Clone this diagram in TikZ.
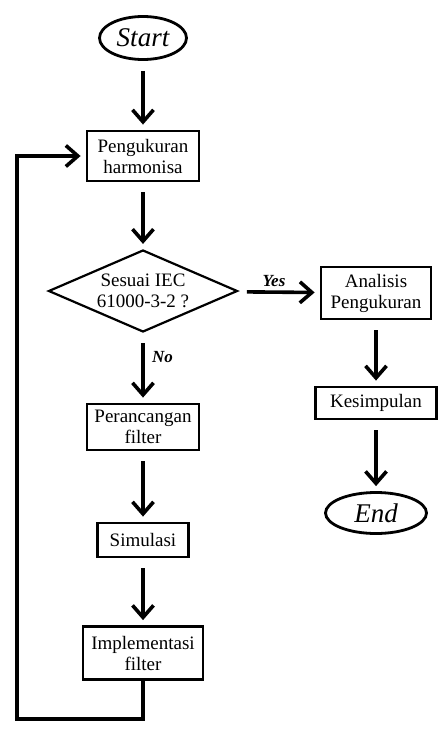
\documentclass[tikz,border=0pt]{standalone}
\usepackage{fontspec}
\setmainfont{Liberation Serif}
\usepackage{tikz}
\usetikzlibrary{shapes.geometric,arrows.meta}

\tikzset{
    proses/.style={draw, line width=2.8pt, align=center, inner sep=1pt,
        font=\fontsize{19}{21}\selectfont},
    terminal/.style={draw, ellipse, line width=2.8pt, inner sep=0pt,
        font=\fontsize{27}{30}\selectfont\itshape},
    keputusan/.style={draw, diamond, line width=2.2pt, inner sep=0pt},
    alur/.style={line width=3.6pt, line join=miter,
        -{Straight Barb[length=12pt,width=21pt,line width=3.6pt]},
        shorten <=10pt, shorten >=5pt},
    jawab/.style={font=\fontsize{17}{19}\selectfont\bfseries\itshape}
}

\begin{document}
\begin{tikzpicture}[x=1pt, y=-1pt]

    \useasboundingbox (0,0) rectangle (445,731);

    \node[terminal, minimum width=87pt, minimum height=43pt] (start) at (143,38) {Start};
    \node[proses, minimum width=112pt, minimum height=50pt] (ukur) at (143,156) {Pengukuran\\harmonisa};
    \node[keputusan, minimum width=189pt, minimum height=82pt] (iec) at (143,291) {};
    \node[align=center, font=\fontsize{19}{21}\selectfont] (iectext) at (iec) {Sesuai IEC\\61000-3-2 ?};
    \node[proses, minimum width=110pt, minimum height=52pt] (analisis) at (376,293) {Analisis\\Pengukuran};
    \node[proses, minimum width=121pt, minimum height=32pt] (simpul) at (376,403) {Kesimpulan};
    \node[terminal, minimum width=101pt, minimum height=41pt] (end) at (376,513) {End};
    \node[proses, minimum width=112pt, minimum height=46pt] (rancang) at (143,427) {Perancangan\\filter};
    \node[proses, minimum width=91pt, minimum height=34pt] (simulasi) at (143,540) {Simulasi};
    \node[proses, minimum width=120pt, minimum height=53pt] (impl) at (143,653) {Implementasi\\filter};
    \coordinate (balik) at (17,719);

    \draw[alur] (start) -- (ukur);
    \draw[alur] (ukur) -- (iec);
    \draw[alur] (iec) -- node[jawab, above, pos=0.45] {Yes} (analisis);
    \draw[alur] (iec) -- node[jawab, right=4pt, pos=0.35] {No} (rancang);
    \draw[alur] (rancang) -- (simulasi);
    \draw[alur] (simulasi) -- (impl);
    \draw[alur] (analisis) -- (simpul);
    \draw[alur] (simpul) -- (end);
    \draw[alur, shorten <=0pt] (impl.south) |- (balik) |- (ukur.west);

\end{tikzpicture}
\end{document}
